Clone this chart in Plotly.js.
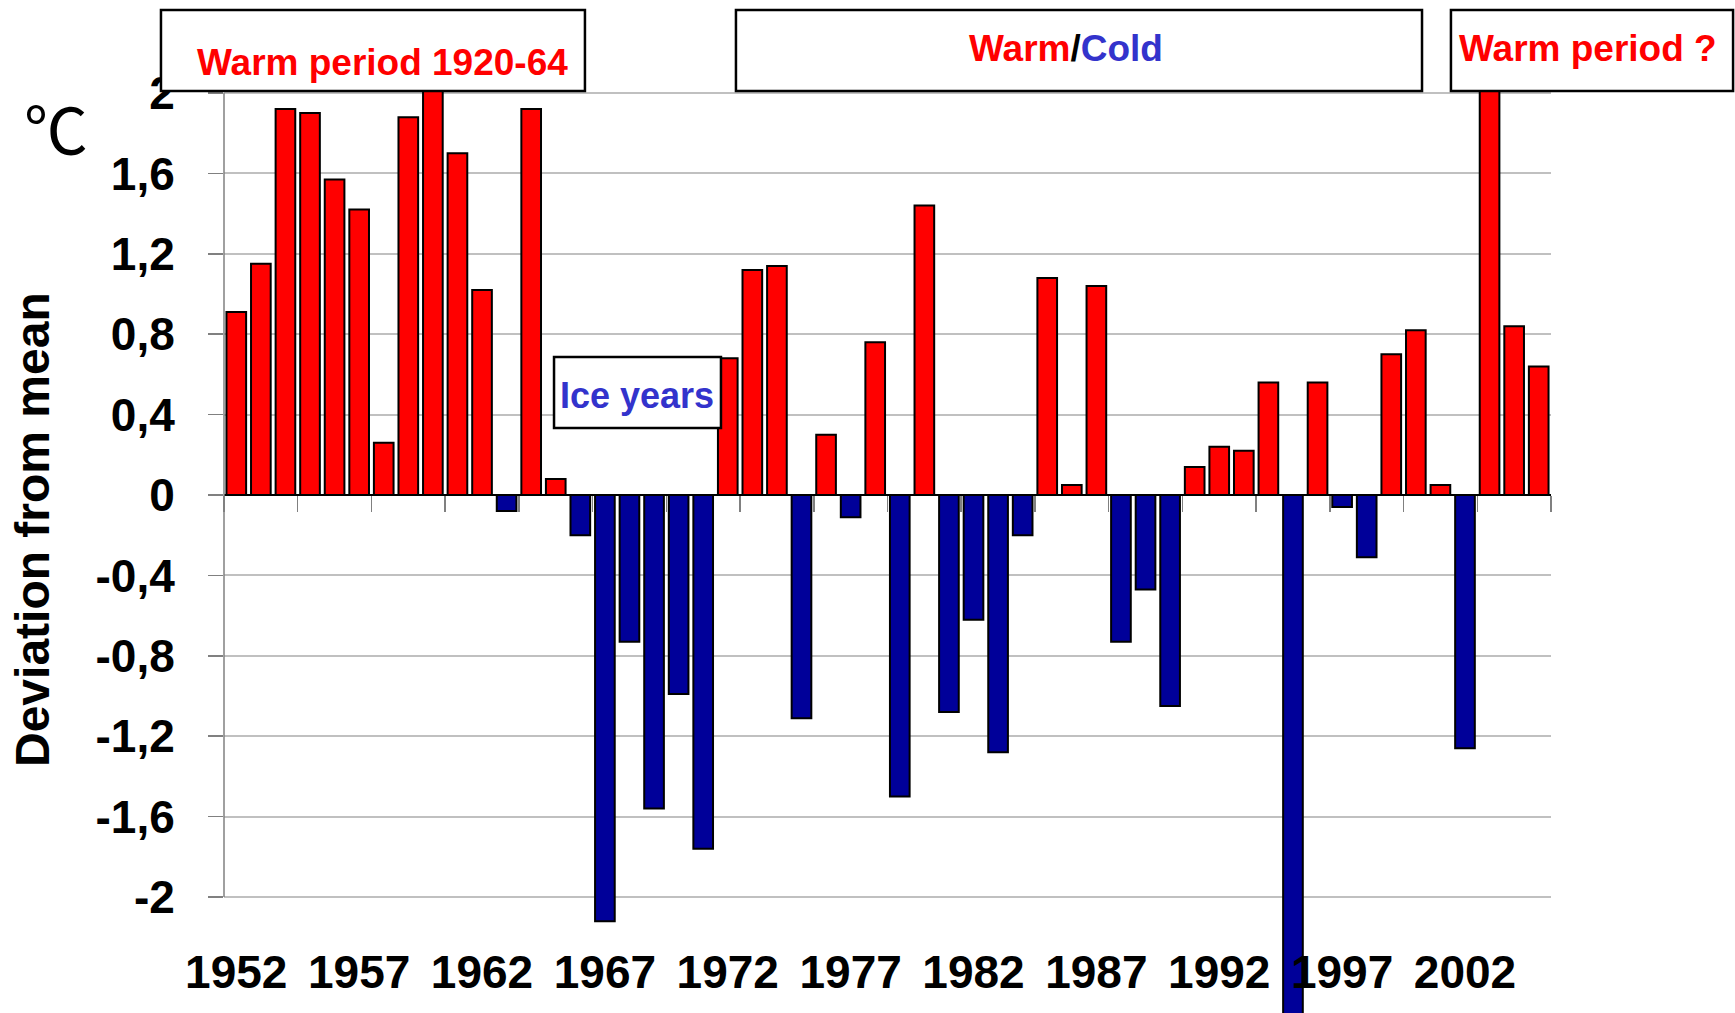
<!DOCTYPE html>
<html>
<head>
<meta charset="utf-8">
<script src="https://cdn.plot.ly/plotly-3.0.1.min.js"></script>
<style>
  html, body { margin: 0; padding: 0; background: #ffffff; }
  #chart { width: 1735px; height: 1013px; }
</style>
</head>
<body>
<div id="chart"></div>
<script>
// ---- data ----
const years = [1952,1953,1954,1955,1956,1957,1958,1959,1960,1961,
               1962,1963,1964,1965,1966,1967,1968,1969,1970,1971,
               1972,1973,1974,1975,1976,1977,1978,1979,1980,1981,
               1982,1983,1984,1985,1986,1987,1988,1989,1990,1991,
               1992,1993,1994,1995,1996,1997,1998,1999,2000,2001,
               2002,2003,2004,2005];
const deviation = [0.91,1.15,1.92,1.90,1.57,1.42,0.26,1.88,2.01,1.70,
                   1.02,-0.08,1.92,0.08,-0.20,-2.12,-0.73,-1.56,-0.99,-1.76,
                   0.68,1.12,1.14,-1.11,0.30,-0.11,0.76,-1.50,1.44,-1.08,
                   -0.62,-1.28,-0.20,1.08,0.05,1.04,-0.73,-0.47,-1.05,0.14,
                   0.24,0.22,0.56,-2.60,0.56,-0.06,-0.31,0.70,0.82,0.05,
                   -1.26,2.10,0.84,0.64];
const xLabelYears = [1952,1957,1962,1967,1972,1977,1982,1987,1992,1997,2002];
const yTickVals = [-2,-1.6,-1.2,-0.8,-0.4,0,0.4,0.8,1.2,1.6,2];
const yTickText = ["-2","-1,6","-1,2","-0,8","-0,4","0","0,4","0,8","1,2","1,6","2"];

// ---- styling ----
const WARM = "#ff0000";
const COLD = "#000099";
const TEXT_BLUE = "#3333cc";
const FONT = "'Liberation Sans', Arial, sans-serif";

const barColors = deviation.map(v => v >= 0 ? WARM : COLD);
// category boundaries every third year (tick marks on the zero line)
const boundaryTicks = years.filter((y, i) => i % 3 === 0).map(y => y - 0.5)
  .concat([years[years.length - 1] + 0.5]);

const trace = {
  type: "bar",
  x: years,
  y: deviation,
  marker: { color: barColors, line: { color: "#000000", width: 2 } },
  hoverinfo: "x+y",
  showlegend: false
};

const boxLine = { color: "#000000", width: 2.5 };
const layout = {
  width: 1735,
  height: 1013,
  margin: { l: 224, r: 184, t: 88, b: 0, pad: 0 },
  paper_bgcolor: "#ffffff",
  plot_bgcolor: "#ffffff",
  bargap: 0.2,
  font: { family: FONT, color: "#000000" },
  xaxis: {
    range: [years[0] - 0.5, years[years.length - 1] + 0.5],
    anchor: "free",
    position: 0.56,
    tickmode: "array",
    tickvals: xLabelYears,
    ticktext: xLabelYears.map(String),
    ticks: "",
    ticklabelstandoff: 446,
    tickfont: { family: FONT, size: 46, color: "#000000", weight: "bold" },
    showline: false,
    showgrid: false,
    zeroline: false,
    fixedrange: true,
    minor: {
      tickmode: "array",
      tickvals: boundaryTicks,
      ticks: "outside",
      ticklen: 16,
      tickwidth: 1.5,
      tickcolor: "#808080",
      showgrid: false
    }
  },
  yaxis: {
    range: [-2.577, 2.025],
    tickmode: "array",
    tickvals: yTickVals,
    ticktext: yTickText,
    ticks: "outside",
    ticklen: 15,
    tickwidth: 1.5,
    tickcolor: "#808080",
    ticklabelstandoff: 24,
    tickfont: { family: FONT, size: 46, color: "#000000", weight: "bold" },
    showgrid: true,
    gridcolor: "#c0c0c0",
    gridwidth: 2,
    zeroline: true,
    zerolinecolor: "#000000",
    zerolinewidth: 1.5,
    showline: false,
    fixedrange: true
  },
  shapes: [
    // y axis line between -2 and 2
    { type: "line", xref: "paper", yref: "y", x0: 0, x1: 0, y0: -2, y1: 2,
      line: { color: "#808080", width: 1.5 }, layer: "above" },
    // title boxes
    { type: "rect", xref: "paper", yref: "paper", x0: -0.0475, x1: 0.2720, y0: 0.9968, y1: 1.0843,
      line: boxLine, fillcolor: "#ffffff", layer: "above" },
    { type: "rect", xref: "paper", yref: "paper", x0: 0.3858, x1: 0.9028, y0: 0.9968, y1: 1.0843,
      line: boxLine, fillcolor: "#ffffff", layer: "above" },
    { type: "rect", xref: "paper", yref: "paper", x0: 0.9246, x1: 1.1372, y0: 0.9968, y1: 1.0843,
      line: boxLine, fillcolor: "#ffffff", layer: "above" },
    // ice years box
    { type: "rect", xref: "paper", yref: "paper", x0: 0.2487, x1: 0.3745, y0: 0.6324, y1: 0.7092,
      line: boxLine, fillcolor: "#ffffff", layer: "above" }
  ],
  annotations: [
    { xref: "paper", yref: "paper", x: 0.1198, y: 1.0281, xanchor: "center", yanchor: "middle",
      text: "Warm period 1920-64", showarrow: false,
      font: { family: FONT, size: 37, color: WARM, weight: "bold" } },
    { xref: "paper", yref: "paper", x: 0.6345, y: 1.0422, xanchor: "center", yanchor: "middle",
      text: "<span style='color:" + WARM + "'>Warm</span><span style='color:#000000'>/</span><span style='color:" + TEXT_BLUE + "'>Cold</span>",
      showarrow: false,
      font: { family: FONT, size: 37, color: WARM, weight: "bold" } },
    { xref: "paper", yref: "paper", x: 1.0279, y: 1.0422, xanchor: "center", yanchor: "middle",
      text: "Warm period ?", showarrow: false,
      font: { family: FONT, size: 37, color: WARM, weight: "bold" } },
    { xref: "paper", yref: "paper", x: 0.3112, y: 0.6681, xanchor: "center", yanchor: "middle",
      text: "Ice years", showarrow: false,
      font: { family: FONT, size: 36, color: TEXT_BLUE, weight: "bold" } },
    { xref: "paper", yref: "paper", x: -0.1265, y: 0.9590, xanchor: "center", yanchor: "middle",
      text: "\u2103", showarrow: false,
      font: { family: "'Noto Sans CJK SC', sans-serif", size: 64, color: "#000000" } },
    { xref: "paper", yref: "paper", x: -0.1439, y: 0.5222, xanchor: "center", yanchor: "middle",
      text: "Deviation from mean", textangle: -90, showarrow: false,
      font: { family: FONT, size: 48, color: "#000000", weight: "bold" } }
  ]
};

Plotly.newPlot("chart", [trace], layout, { displayModeBar: false, staticPlot: true });
</script>
</body>
</html>
